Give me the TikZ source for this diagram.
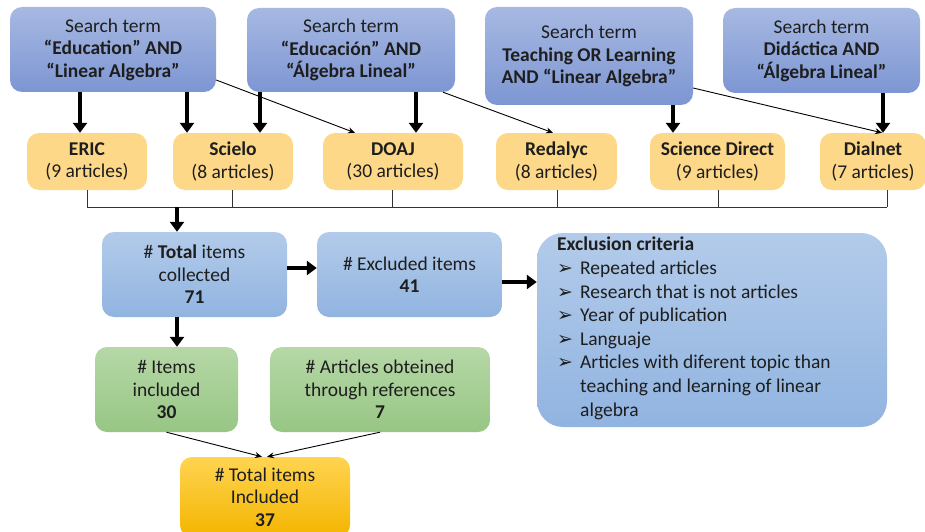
\documentclass[tikz,border=0pt]{standalone}
\usepackage{fontspec}
\setmainfont{Carlito}
\newfontfamily\dejavu{DejaVu Sans}
\usetikzlibrary{arrows.meta}
\definecolor{txt}{HTML}{1E1E1E}
\newcommand{\bul}{\makebox[23pt][l]{\dejavu\fontsize{19}{19}\selectfont ➢}}
\begin{document}
\begin{tikzpicture}[x=1pt,y=-1pt,
  base/.style={rounded corners=12pt, align=center, inner sep=0pt, text=txt,
    font=\fontsize{19.5}{22.5}\selectfont},
  search/.style={base, top color=searchtop, bottom color=searchbot},
  src/.style={base, fill=srcfill},
  bluebox/.style={base, top color=bluetop, bottom color=bluebot},
  greenbox/.style={base, top color=greentop, bottom color=greenbot},
  goldbox/.style={base, top color=goldtop, bottom color=goldbot},
  bigarrow/.style={line width=4.5pt, -{Triangle[width=14pt,length=10pt]}},
  thinarrow/.style={line width=0.9pt, -{Stealth[width=6pt,length=7pt]}},
  bus/.style={line width=0.8pt, draw=black!80}
]
\definecolor{searchtop}{HTML}{A7B9E2}
\definecolor{searchbot}{HTML}{7D96D3}
\definecolor{srcfill}{HTML}{FDD888}
\definecolor{bluetop}{HTML}{B3CBEA}
\definecolor{bluebot}{HTML}{91B4E0}
\definecolor{greentop}{HTML}{B6D8A7}
\definecolor{greenbot}{HTML}{97C684}
\definecolor{goldtop}{HTML}{FFD451}
\definecolor{goldbot}{HTML}{F3B500}
\useasboundingbox (0,0) rectangle (925,532);
\clip (0,0) rectangle (925,532);
\fill[white] (0,0) rectangle (925,532);

% search term boxes
\node[search, minimum width=206pt, minimum height=85pt] (s1) at (113,49.5)
  {Search term\\\textbf{“Education” AND}\\\textbf{“Linear Algebra”}};
\node[search, minimum width=208pt, minimum height=84pt] (s2) at (351,50)
  {Search term\\\textbf{“Educación” AND}\\\textbf{“Álgebra Lineal”}};
\node[search, minimum width=208pt, minimum height=98pt] (s3) at (589,56)
  {Search term\\\textbf{Teaching OR Learning}\\\textbf{AND “Linear Algebra”}};
\node[search, minimum width=197pt, minimum height=85pt] (s4) at (821.5,50.5)
  {Search term\\\textbf{Didáctica AND}\\\textbf{“Álgebra Lineal”}};

% sources
\node[src, minimum width=120pt, minimum height=57pt] (eric) at (87,161.5)
  {\textbf{ERIC}\\(9 articles)};
\node[src, minimum width=120pt, minimum height=57pt] (scielo) at (233,161.5)
  {\textbf{Scielo}\\(8 articles)};
\node[src, minimum width=140pt, minimum height=57pt] (doaj) at (393,161.5)
  {\textbf{DOAJ}\\(30 articles)};
\node[src, minimum width=121pt, minimum height=57pt] (redalyc) at (556.5,161.5)
  {\textbf{Redalyc}\\(8 articles)};
\node[src, minimum width=135pt, minimum height=57pt] (sd) at (717.5,161.5)
  {\textbf{Science Direct}\\(9 articles)};
\node[src, minimum width=106pt, minimum height=57pt] (dialnet) at (873,161.5)
  {\textbf{Dialnet}\\(7 articles)};

% arrows from search terms
\draw[bigarrow] (s1.south -| 80,0) -- (eric.north -| 80,0);
\draw[bigarrow] (s1.south -| 187,0) -- (scielo.north -| 187,0);
\draw[bigarrow] (s2.south -| 260,0) -- (scielo.north -| 260,0);
\draw[bigarrow] (s2.south -| 416,0) -- (doaj.north -| 416,0);
\draw[bigarrow] (s3.south -| 673,0) -- (sd.north -| 673,0);
\draw[bigarrow] (s4.south -| 883,0) -- (dialnet.north -| 883,0);
\draw[thinarrow] (s1.east |- 0,80) -- (doaj.north -| 355,0);
\draw[thinarrow] (s2.south -| 443,0) -- (redalyc.north -| 553,0);
\draw[thinarrow] (s3.east |- 0,88) -- (dialnet.north -| 882,0);

% bus
\coordinate (busL) at (87,207);
\coordinate (busR) at (887,207);
\coordinate (busT) at (177,207);
\draw[bus] (busL) -- (busR);
\draw[bus] (eric.south) -- (eric.south |- busL);
\draw[bus] (scielo.south -| 232,0) -- (busL -| 232,0);
\draw[bus] (doaj.south -| 392,0) -- (busL -| 392,0);
\draw[bus] (redalyc.south -| 557,0) -- (busL -| 557,0);
\draw[bus] (sd.south -| 718,0) -- (busL -| 718,0);
\draw[bus] (dialnet.south -| busR) -- (busR);

% middle row
\node[bluebox, minimum width=185pt, minimum height=85pt] (total) at (194.5,274.5)
  {\# \textbf{Total} items\\collected\\\textbf{71}};
\node[bluebox, minimum width=185pt, minimum height=85pt] (excluded) at (409.5,274.5)
  {\# Excluded items\\\textbf{41}};
\node[bluebox, rounded corners=26pt, minimum width=350pt, minimum height=194pt] (crit) at (712,330) {};
\node[anchor=north west, align=left, inner sep=0pt, text=txt,
  font=\fontsize{19.5}{23.6}\selectfont] (critText) at (557,237)
  {\textbf{Exclusion criteria}\\
   \bul Repeated articles\\
   \bul Research that is not articles\\
   \bul Year of publication\\
   \bul Languaje\\
   \bul Articles with diferent topic than\\
   \hspace*{23pt}teaching and learning of linear\\
   \hspace*{23pt}algebra};

\draw[bigarrow] (busT) -- (busT |- total.north);
\draw[bigarrow] (total.east |- 0,268) -- (excluded.west |- 0,268);
\draw[bigarrow] (excluded.east |- 0,282) -- (crit.west |- 0,282);

% lower rows
\node[greenbox, minimum width=143pt, minimum height=85pt] (items) at (166.5,389.5)
  {\# Items\\included\\\textbf{30}};
\node[greenbox, minimum width=220pt, minimum height=85pt] (refs) at (380,389.5)
  {\# Articles obteined\\through references\\\textbf{7}};
\node[goldbox, minimum width=170pt, minimum height=80pt] (totinc) at (265,497)
  {\# Total items\\Included\\\textbf{37}};

\draw[bigarrow] (total.south -| busT) -- (items.north -| busT);
\draw[thinarrow] (items.south) -- ([xshift=-3pt]totinc.north);
\draw[thinarrow] (refs.south) -- ([xshift=2pt]totinc.north);
\end{tikzpicture}
\end{document}
